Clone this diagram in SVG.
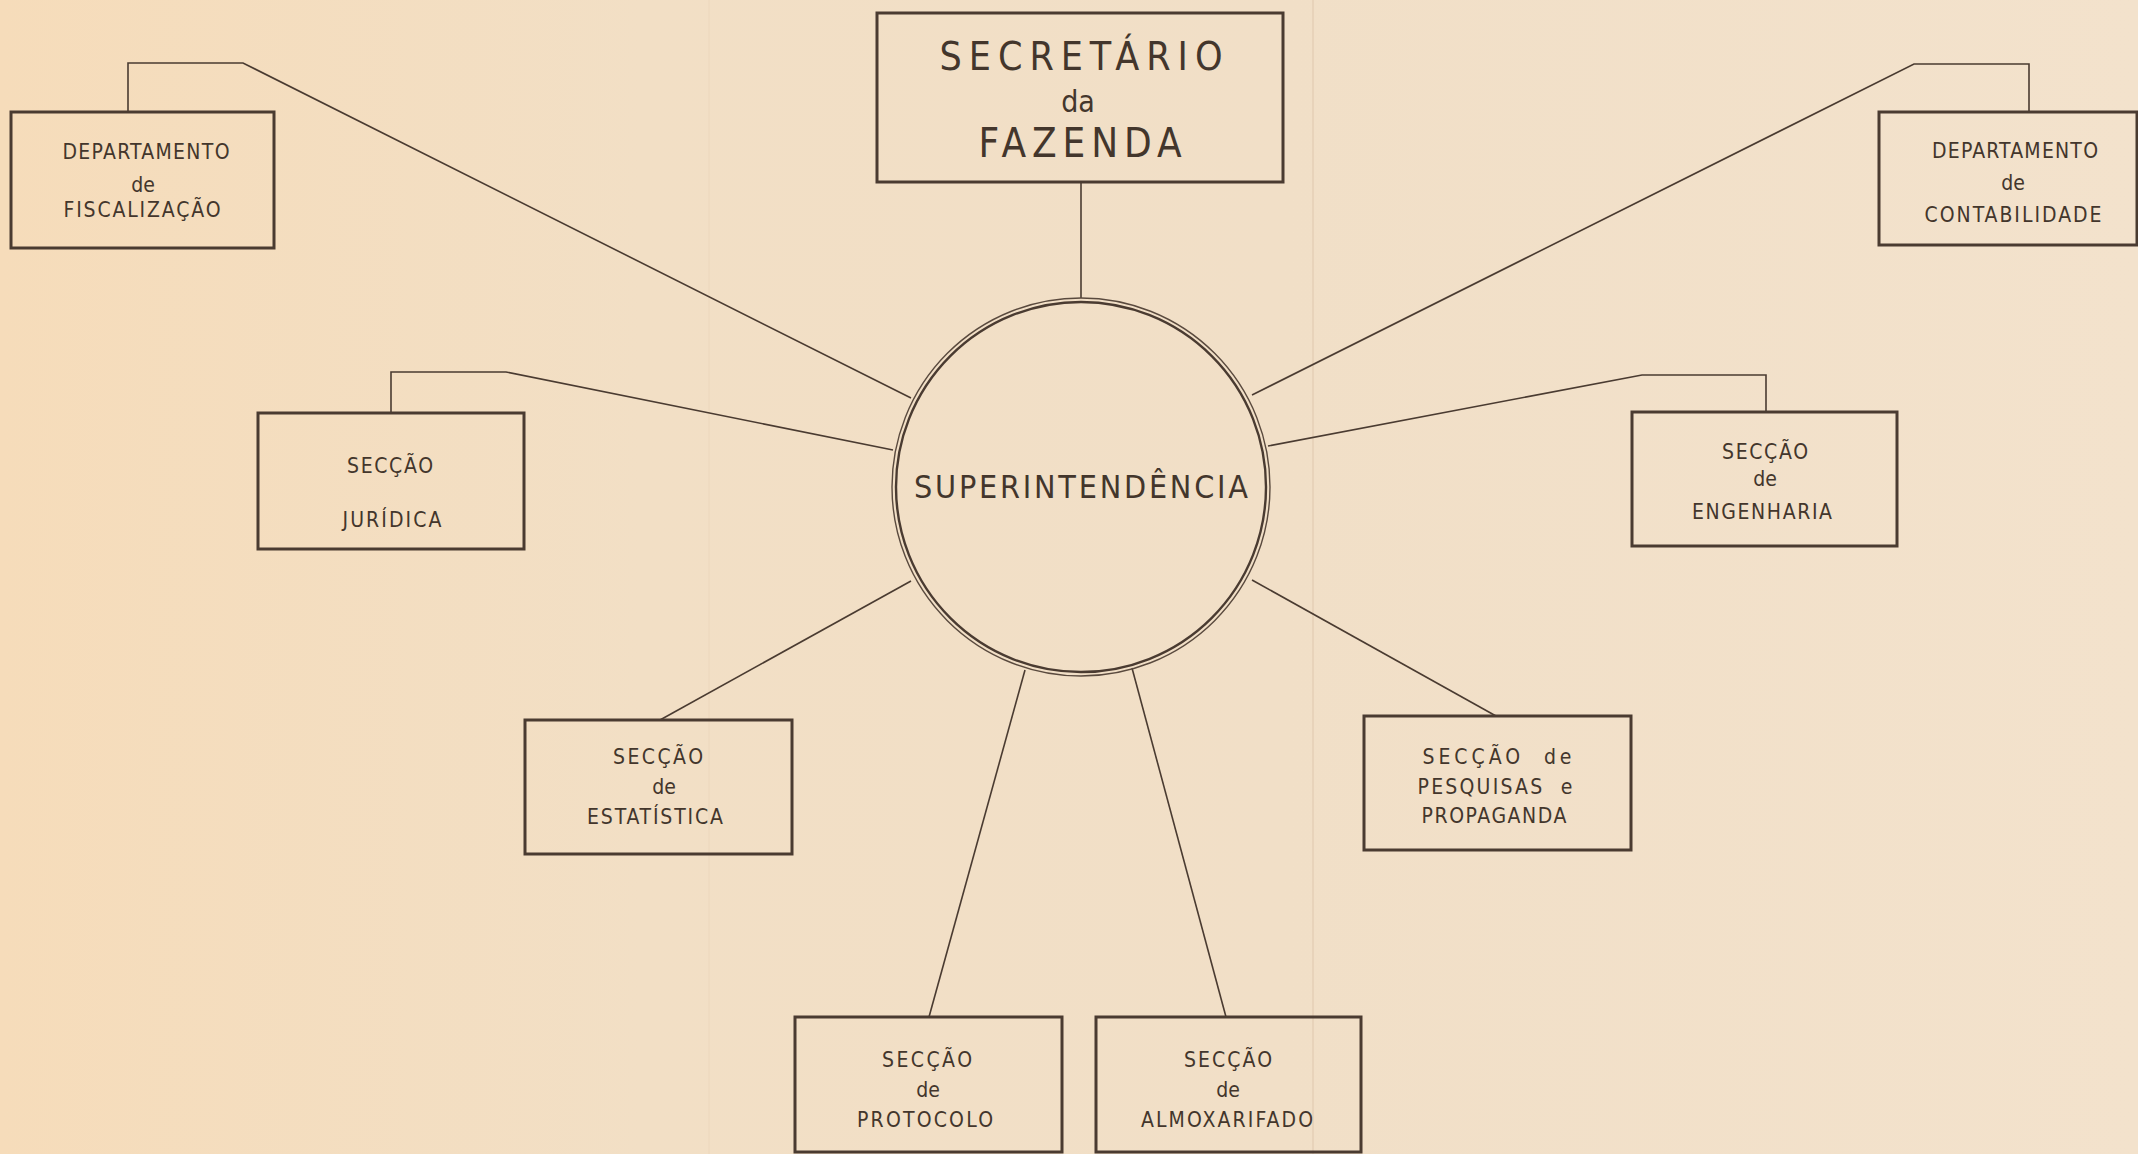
<svg xmlns="http://www.w3.org/2000/svg" width="2138" height="1154" viewBox="0 0 2138 1154">
<defs>
<linearGradient id="paper" x1="0" y1="0" x2="1" y2="0">
<stop offset="0" stop-color="#f6dcba"/>
<stop offset="0.3" stop-color="#f2dfc5"/>
<stop offset="0.6" stop-color="#f1dfc7"/>
<stop offset="1" stop-color="#f3e2cc"/>
</linearGradient>
<style>
.box{fill:none;stroke:#4a3b31;stroke-width:3}
.con{fill:none;stroke:#4a3b31;stroke-width:1.6}
.t{font-family:"Liberation Sans Narrow","DejaVu Sans Condensed","Liberation Sans",Arial,sans-serif;fill:#43362c;text-anchor:middle;white-space:pre}
.s{font-size:21px}
.d{font-size:21px}
</style>
</defs>
<rect x="0" y="0" width="2138" height="1154" fill="url(#paper)"/>
<line x1="1313" y1="0" x2="1313" y2="1154" stroke="#e2cdb2" stroke-width="1.5" opacity="0.8"/>
<line x1="709" y1="0" x2="709" y2="1154" stroke="#ead4b8" stroke-width="1" opacity="0.6"/>

<g id="connectors">
<line class="con" x1="1081" y1="182" x2="1081" y2="298"/>
<polyline class="con" points="128,112 128,63 243,63 911,398"/>
<polyline class="con" points="2029,112 2029,64 1914,64 1252,395"/>
<polyline class="con" points="391,413 391,372 506,372 893,450"/>
<polyline class="con" points="1766,412 1766,375 1642,375 1268,446"/>
<line class="con" x1="660" y1="720" x2="911" y2="581"/>
<line class="con" x1="1496" y1="716" x2="1252" y2="580"/>
<line class="con" x1="929" y1="1017" x2="1025" y2="670"/>
<line class="con" x1="1226" y1="1017" x2="1132" y2="668"/>
</g>

<g id="secretario">
<rect class="box" x="877" y="13" width="406" height="169"/>
<text class="t" x="1081" y="70" font-size="39" textLength="283" lengthAdjust="spacing">SECRETÁRIO</text>
<text class="t" x="1078" y="112" font-size="30">da</text>
<text class="t" x="1080" y="157" font-size="40" textLength="203" lengthAdjust="spacing">FAZENDA</text>
</g>

<g id="superintendencia">
<circle cx="1081" cy="487" r="189" fill="none" stroke="#5a4a3e" stroke-width="1.4"/>
<circle cx="1081" cy="487" r="185" fill="none" stroke="#4a3b31" stroke-width="2.4"/>
<text class="t" x="1081" y="498" font-size="32" textLength="334" lengthAdjust="spacing">SUPERINTENDÊNCIA</text>
</g>

<g id="fiscalizacao">
<rect class="box" x="11" y="112" width="263" height="136"/>
<text class="t s" x="146" y="159" textLength="167" lengthAdjust="spacing">DEPARTAMENTO</text>
<text class="t d" x="143" y="192">de</text>
<text class="t s" x="142" y="217" textLength="157" lengthAdjust="spacing">FISCALIZAÇÃO</text>
</g>

<g id="contabilidade">
<rect class="box" x="1879" y="112" width="258" height="133"/>
<text class="t s" x="2015" y="158" textLength="166" lengthAdjust="spacing">DEPARTAMENTO</text>
<text class="t d" x="2013" y="190">de</text>
<text class="t s" x="2013" y="222" textLength="177" lengthAdjust="spacing">CONTABILIDADE</text>
</g>

<g id="juridica">
<rect class="box" x="258" y="413" width="266" height="136"/>
<text class="t s" x="390" y="473" textLength="86" lengthAdjust="spacing">SECÇÃO</text>
<text class="t s" x="392" y="527" textLength="99" lengthAdjust="spacing">JURÍDICA</text>
</g>

<g id="engenharia">
<rect class="box" x="1632" y="412" width="265" height="134"/>
<text class="t s" x="1765" y="459" textLength="86" lengthAdjust="spacing">SECÇÃO</text>
<text class="t d" x="1765" y="486">de</text>
<text class="t s" x="1762" y="519" textLength="140" lengthAdjust="spacing">ENGENHARIA</text>
</g>

<g id="estatistica">
<rect class="box" x="525" y="720" width="267" height="134"/>
<text class="t s" x="658" y="764" textLength="90" lengthAdjust="spacing">SECÇÃO</text>
<text class="t d" x="664" y="794">de</text>
<text class="t s" x="655" y="824" textLength="136" lengthAdjust="spacing">ESTATÍSTICA</text>
</g>

<g id="pesquisas">
<rect class="box" x="1364" y="716" width="267" height="134"/>
<text class="t s" x="1497" y="764" textLength="149" lengthAdjust="spacing">SECÇÃO  de</text>
<text class="t s" x="1495" y="794" textLength="155" lengthAdjust="spacing">PESQUISAS  e</text>
<text class="t s" x="1494" y="823" textLength="145" lengthAdjust="spacing">PROPAGANDA</text>
</g>

<g id="protocolo">
<rect class="box" x="795" y="1017" width="267" height="135"/>
<text class="t s" x="927" y="1067" textLength="90" lengthAdjust="spacing">SECÇÃO</text>
<text class="t d" x="928" y="1097">de</text>
<text class="t s" x="925" y="1127" textLength="136" lengthAdjust="spacing">PROTOCOLO</text>
</g>

<g id="almoxarifado">
<rect class="box" x="1096" y="1017" width="265" height="135"/>
<text class="t s" x="1228" y="1067" textLength="88" lengthAdjust="spacing">SECÇÃO</text>
<text class="t d" x="1228" y="1097">de</text>
<text class="t s" x="1227" y="1127" textLength="172" lengthAdjust="spacing">ALMOXARIFADO</text>
</g>
</svg>
